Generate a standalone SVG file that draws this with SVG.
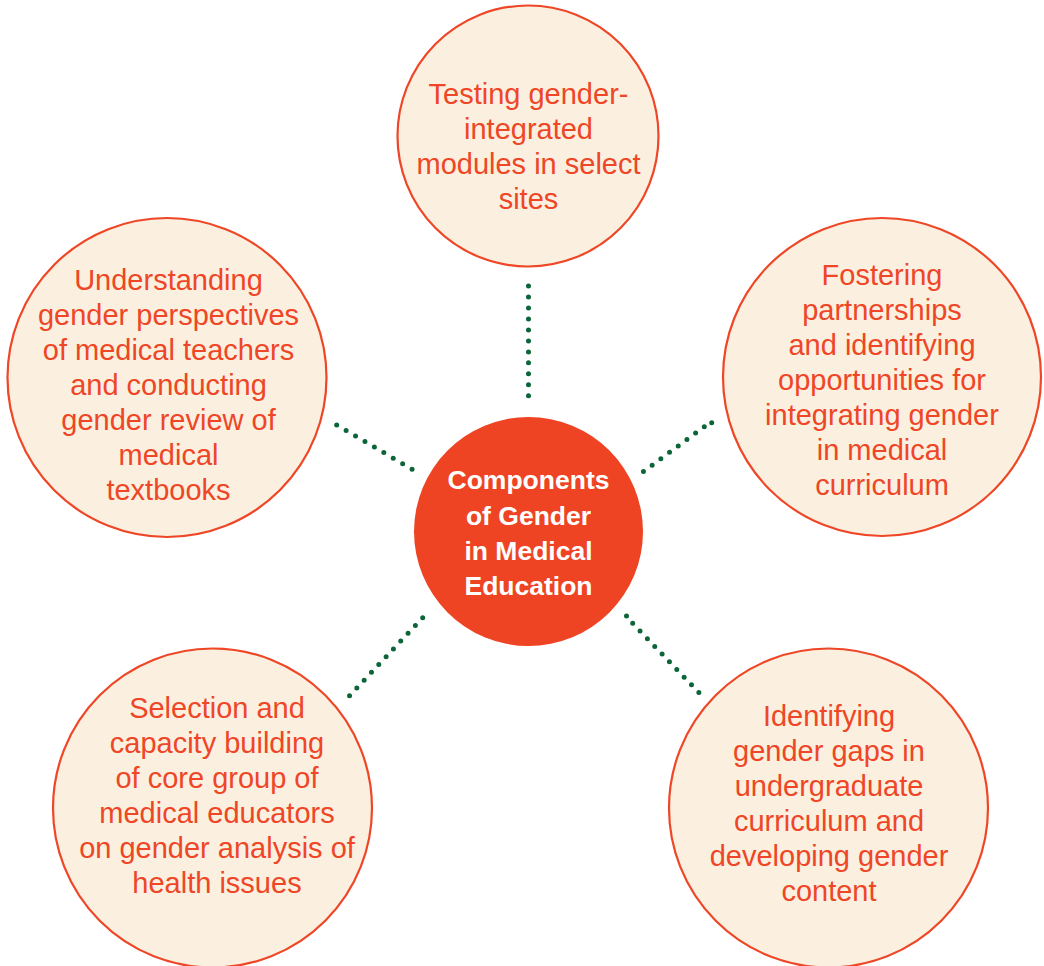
<svg xmlns="http://www.w3.org/2000/svg" width="1044" height="966" viewBox="0 0 1044 966">
<style>
.bg{fill:#ffffff}
.node{fill:#FBF0DF;stroke:#EE4626;stroke-width:2.2}
.hub{fill:#EE4423}
.t{font-family:"Liberation Sans",Arial,sans-serif;font-size:29px;fill:#EE4626;text-anchor:middle}
.h{font-family:"Liberation Sans",Arial,sans-serif;font-size:26.5px;font-weight:bold;fill:#ffffff;text-anchor:middle}
.dot{stroke:#0B6538;stroke-width:5;stroke-linecap:round;fill:none}
</style>
<rect class="bg" x="0" y="0" width="1044" height="966"/>
<g id="connectors">
<line class="dot" stroke-dasharray="0 10.98" x1="528.5" y1="286" x2="528.5" y2="396"/>
<line class="dot" stroke-dasharray="0 10.92" x1="336.7" y1="425" x2="412.3" y2="469.3"/>
<line class="dot" stroke-dasharray="0 10.8" x1="704.3" y1="426.7" x2="643.3" y2="471.7"/>
<line class="dot" stroke-dasharray="0 20" x1="711.7" y1="422.7" x2="711.7" y2="422.7"/>
<line class="dot" stroke-dasharray="0 10.7" x1="422.7" y1="617.7" x2="349.3" y2="696"/>
<line class="dot" stroke-dasharray="0 10.64" x1="632.7" y1="623.3" x2="699" y2="692.7"/>
<line class="dot" stroke-dasharray="0 20" x1="626.5" y1="616" x2="626.5" y2="616"/>
</g>
<g id="hub">
<circle class="hub" cx="528.5" cy="531.5" r="114.5"/>
<text class="h"><tspan x="528.5" y="489">Components</tspan><tspan x="528.5" y="524.5">of Gender</tspan><tspan x="528.5" y="560">in Medical</tspan><tspan x="528.5" y="595">Education</tspan></text>
</g>
<g id="node-top">
<circle class="node" cx="528" cy="136" r="130.5"/>
<text class="t"><tspan x="528.5" y="104">Testing gender-</tspan><tspan x="528.5" y="139">integrated</tspan><tspan x="528.5" y="174">modules in select</tspan><tspan x="528.5" y="209">sites</tspan></text>
</g>
<g id="node-left">
<circle class="node" cx="167" cy="377.5" r="159.5"/>
<text class="t"><tspan x="168.5" y="290">Understanding</tspan><tspan x="168.5" y="325">gender perspectives</tspan><tspan x="168.5" y="360">of medical teachers</tspan><tspan x="168.5" y="395">and conducting</tspan><tspan x="168.5" y="430">gender review of</tspan><tspan x="168.5" y="465">medical</tspan><tspan x="168.5" y="500">textbooks</tspan></text>
</g>
<g id="node-right">
<circle class="node" cx="882" cy="377" r="159"/>
<text class="t"><tspan x="882" y="285">Fostering</tspan><tspan x="882" y="320">partnerships</tspan><tspan x="882" y="355">and identifying</tspan><tspan x="882" y="390">opportunities for</tspan><tspan x="882" y="425">integrating gender</tspan><tspan x="882" y="460">in medical</tspan><tspan x="882" y="495">curriculum</tspan></text>
</g>
<g id="node-bottom-left">
<circle class="node" cx="212.5" cy="808" r="159.5"/>
<text class="t"><tspan x="217" y="718">Selection and</tspan><tspan x="217" y="753">capacity building</tspan><tspan x="217" y="788">of core group of</tspan><tspan x="217" y="823">medical educators</tspan><tspan x="217" y="858">on gender analysis of</tspan><tspan x="217" y="893">health issues</tspan></text>
</g>
<g id="node-bottom-right">
<circle class="node" cx="828.5" cy="808" r="159.5"/>
<text class="t"><tspan x="829" y="726">Identifying</tspan><tspan x="829" y="761">gender gaps in</tspan><tspan x="829" y="796">undergraduate</tspan><tspan x="829" y="831">curriculum and</tspan><tspan x="829" y="866">developing gender</tspan><tspan x="829" y="901">content</tspan></text>
</g>
</svg>
